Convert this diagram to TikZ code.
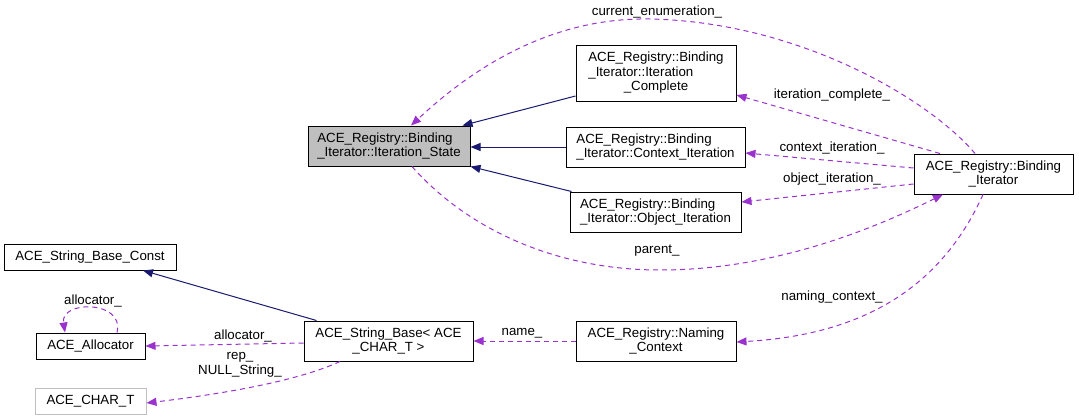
\documentclass[tikz,border=0pt]{standalone}
\usepackage{fontspec}
\setmainfont{Liberation Sans}
\usetikzlibrary{arrows.meta,calc}
\definecolor{inhcol}{HTML}{191970}
\definecolor{depcol}{HTML}{9A32CD}
\definecolor{grayfill}{HTML}{BFBFBF}
\begin{document}
\begin{tikzpicture}[x=1pt,y=-1pt,
  every node/.style={font=\fontsize{13.3}{14.5}\selectfont},
  box/.style={draw=black,line width=1pt,inner sep=0pt,fill=white},
  inh/.style={draw=inhcol,line width=1pt,-{Triangle[length=10pt,width=8pt]}},
  dep/.style={draw=depcol,line width=1pt,dash pattern=on 5pt off 4pt,-{Triangle[length=10pt,width=8pt]}},
  lbl/.style={inner sep=0pt,align=center}]
\useasboundingbox (0,0) rectangle (1079,420);
% nodes
\node[box,fill=grayfill,minimum width=162pt,minimum height=40pt,align=left] (st) at (389,146) {ACE\_Registry::Binding\\\_Iterator::Iteration\_State};
\node[box,minimum width=160pt,minimum height=55pt] (ic) at (656,73.5) {\begin{tabular}{@{}l@{}}ACE\_Registry::Binding\\\_Iterator::Iteration\\\multicolumn{1}{@{}c@{}}{\_Complete}\end{tabular}};
\node[box,minimum width=179pt,minimum height=40pt,align=left] (ci) at (655.5,147) {ACE\_Registry::Binding\\\_Iterator::Context\_Iteration};
\node[box,minimum width=171pt,minimum height=40pt,align=left] (oi) at (655.5,212) {ACE\_Registry::Binding\\\_Iterator::Object\_Iteration};
\node[box,minimum width=159pt,minimum height=40pt,align=center] (bi) at (993.5,174) {ACE\_Registry::Binding\\\_Iterator};
\node[box,minimum width=172pt,minimum height=26pt] (sbc) at (90,257) {ACE\_String\_Base\_Const};
\node[box,minimum width=109pt,minimum height=26pt] (al) at (90.5,346) {ACE\_Allocator};
\node[box,draw=grayfill,minimum width=111pt,minimum height=26pt] (ch) at (90.5,401) {ACE\_CHAR\_T};
\node[box,minimum width=169pt,minimum height=40pt,align=center] (sb) at (388.5,341) {ACE\_String\_Base< ACE\\\_CHAR\_T >};
\node[box,minimum width=160pt,minimum height=40pt,align=center] (nc) at (656,341) {ACE\_Registry::Naming\\\_Context};
% inheritance
\draw[inh] ([yshift=-22.5pt]ic.west) -- ([xshift=-8pt]st.north east);
\draw[inh] (ci.west) -- (ci.west -| st.east);
\draw[inh] ([xshift=2pt]oi.north west) -- (st.south east);
\draw[inh] ([xshift=13pt]sb.north west) -- ([xshift=53pt]sbc.south);
% dependencies
\coordinate (cepeak) at (650,19);
\draw[dep] ([xshift=-18.5pt]bi.north) .. controls (930,100) and (800,22) .. (cepeak) .. controls (540,17) and (460,80) .. ([xshift=22pt]st.north);
\node[lbl] (lce) at (657,12) {current\_enumeration\_};
\draw[dep] ([xshift=-53.5pt]bi.north) -- ([yshift=-21.5pt]ic.east);
\node[lbl] (lic) at (832,95) {iteration\_complete\_};
\draw[dep] ([yshift=6pt]bi.west) -- ([yshift=-6pt]ci.east);
\node[lbl] (lci) at (832,148) {context\_iteration\_};
\draw[dep] ([yshift=-10pt]bi.west) -- ([yshift=10pt]oi.east);
\node[lbl] (loi) at (832,179) {object\_iteration\_};
\coordinate (pbot) at (660,270);
\draw[dep] ([xshift=23pt]st.south) .. controls (470,232) and (560,270) .. (pbot) .. controls (775,270) and (875,228) .. ([xshift=-50.5pt]bi.south);
\node[lbl] (lpa) at (657,251) {parent\_};
\draw[dep] ([xshift=-10.5pt]bi.south) .. controls (940,290) and (860,335) .. ([yshift=-1pt]nc.east);
\node[lbl] (lnc) at (832,297) {naming\_context\_};
\draw[dep] (nc.west) -- (sb.east);
\node[lbl] (lna) at (522,333) {name\_};
\draw[dep] ([yshift=-2pt]sb.west) -- (al.east);
\node[lbl] (lal) at (243,336) {allocator\_};
\draw[dep] ([xshift=26.5pt]al.north) .. controls (125,300) and (60,300) .. ([xshift=-25.5pt]al.north);
\node[lbl] (lal2) at (93,301) {allocator\_};
\draw[dep] ([xshift=-48.5pt]sb.south) .. controls (300,380) and (230,393) .. ([yshift=-2pt]ch.east);
\node[lbl] (lrep) at (240,365) {rep\_\\NULL\_String\_};
\end{tikzpicture}
\end{document}
